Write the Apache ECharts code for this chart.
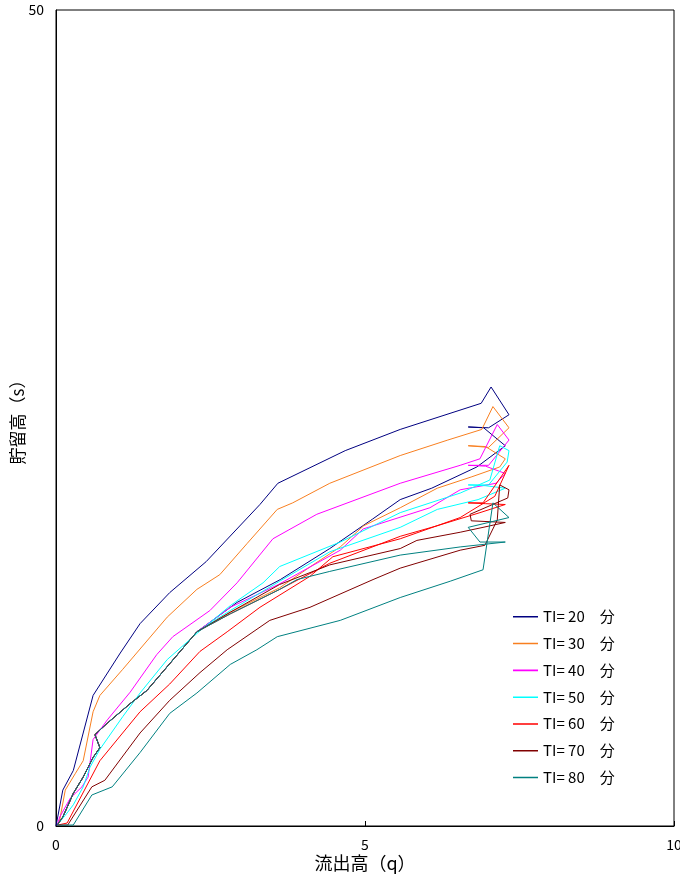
<!DOCTYPE html>
<html><head><meta charset="utf-8">
<script src="https://cdn.jsdelivr.net/npm/echarts@6/dist/echarts.min.js"></script>
<style>html,body{margin:0;padding:0;background:#fff;}#c{width:680px;height:881px;}</style>
</head><body><div id="c"></div>
<script>
// Series names (legend labels)
const seriesNames = ['TI= 20\u3000分','TI= 30\u3000分','TI= 40\u3000分','TI= 50\u3000分','TI= 60\u3000分','TI= 70\u3000分','TI= 80\u3000分'];
const seriesColors = ['#000080','#F87F20','#FF00FF','#00FFFF','#FF0000','#800000','#008080'];

// Common recession tail (falling limbs converge) [q, s]
const recessionTail = [[2.28,11.9],[1.47,8.3],[1.20,7.5],[0.83,6.3],[0.63,5.6],[0.71,4.8],[0.60,4.2],[0.44,3.0],[0.28,2.0],[0.11,0.55],[0.02,0.06]];

const ti20 = [[0,0],[0.11,2.2],[0.28,3.4],[0.60,8.0],[1.04,10.6],[1.36,12.4],[1.84,14.3],[2.43,16.2],[3.30,19.7],[3.59,21.0],[4.68,23.0],[5.57,24.3],[6.88,25.9],[7.04,26.9],[7.33,25.2],[7.0,24.4],[6.67,24.45],[6.92,24.4],[7.27,23.3],[6.81,22.0],[6.08,20.7],[5.57,20.0],[5.12,18.8],[4.43,17.0],[3.63,15.1],[2.93,13.7]];
const ti30 = [[0.02,0.05],[0.06,0.37],[0.15,2.2],[0.31,3.2],[0.44,4.0],[0.60,7.0],[0.71,8.0],[1.08,9.6],[1.80,12.8],[2.28,14.5],[2.65,15.4],[3.09,17.3],[3.58,19.4],[3.83,19.8],[4.43,21.0],[5.57,22.7],[6.34,23.65],[6.89,24.3],[7.07,25.7],[7.33,24.4],[7.0,23.2],[6.67,23.3],[6.95,23.25],[7.27,22.5],[7.18,22.0],[6.73,21.4],[6.17,20.7],[5.57,19.5],[4.98,18.4],[4.60,17.1],[4.16,16.0],[3.62,14.6],[2.82,13.1]];
const ti40 = [[0.02,0.05],[0.06,0.55],[0.23,1.7],[0.42,2.4],[0.52,3.0],[0.60,5.3],[0.83,6.5],[1.20,8.2],[1.63,10.5],[1.89,11.6],[2.49,13.2],[2.93,14.9],[3.51,17.6],[4.22,19.1],[5.57,21.0],[6.54,22.1],[6.86,22.5],[7.14,24.6],[7.33,23.65],[7.0,22.1],[6.67,22.1],[6.95,22.05],[7.27,21.6],[7.12,21.0],[6.54,20.6],[6.05,19.5],[4.97,18.2],[4.60,16.9],[3.60,14.8],[2.82,13.4]];
const ti50 = [[0.02,0.06],[0.18,0.8],[0.28,1.3],[0.44,2.4],[0.55,3.6],[0.71,4.7],[1.08,6.7],[1.36,8.15],[1.80,10.2],[2.28,11.8],[2.82,13.5],[3.35,14.9],[3.62,15.9],[4.60,17.4],[5.57,19.2],[6.54,20.4],[7.02,21.2],[7.18,23.3],[7.33,23.0],[7.30,22.3],[7.0,20.9],[6.67,20.9],[6.95,20.85],[7.27,20.7],[6.83,20.0],[6.17,19.4],[5.57,18.3],[4.43,16.8],[3.62,15.0],[2.82,13.2]];
const ti60 = [[0.02,0.05],[0.18,0.18],[0.71,4.0],[1.36,7.0],[1.84,8.7],[2.33,10.7],[2.77,11.9],[3.30,13.4],[4.11,15.3],[4.48,16.5],[5.57,17.6],[6.54,18.9],[7.10,20.2],[7.33,22.1],[6.91,19.8],[6.67,19.8],[6.95,19.75],[7.27,19.7],[6.86,19.2],[6.17,18.4],[5.57,17.75],[4.43,16.1],[3.62,14.5],[2.82,13.0]];
const ti70 = [[0.02,0.05],[0.19,0.06],[0.58,2.4],[0.79,2.8],[1.36,5.7],[1.84,7.7],[2.33,9.4],[2.77,10.8],[3.46,12.6],[4.11,13.4],[5.13,15.1],[5.57,15.8],[6.54,16.9],[6.94,17.2],[7.14,18.75],[7.18,20.9],[7.33,20.6],[7.31,20.1],[6.70,19.1],[6.72,18.7],[7.27,18.6],[6.91,18.3],[6.54,18.0],[5.84,17.5],[5.57,17.0],[4.43,16.0],[3.62,14.8],[2.82,13.1]];
const ti80 = [[0.02,0.05],[0.28,0.06],[0.58,1.9],[0.91,2.4],[1.36,4.5],[1.84,6.9],[2.28,8.15],[2.82,9.9],[3.25,10.8],[3.58,11.6],[4.60,12.6],[5.57,14.0],[6.38,15.0],[6.91,15.7],[7.07,19.8],[7.33,18.9],[6.67,18.3],[6.86,17.4],[7.27,17.4],[6.54,17.1],[5.57,16.6],[4.43,15.6],[3.90,15.1],[3.62,14.5],[2.82,13.0]];

const seriesData = [ti20, ti30, ti40, ti50, ti60, ti70, ti80];

const xTicks = {min:0, max:10, interval:5};
const yTicks = {min:0, max:50, interval:50};

// legend line icon: thin bar with invisible corner points to keep the box
const lineIcon = 'path://M0,0h0.01v0.01h-0.01z M0,6.5h26v1.6h-26z M25.99,13.99h0.01v0.01h-0.01z';

const FONT = '"Noto Sans CJK JP", "Noto Sans", sans-serif';
const chart = echarts.init(document.getElementById('c'), null, {renderer:'canvas'});
chart.setOption({
  backgroundColor:'#fff',
  animation:false,
  textStyle:{fontFamily:FONT},
  grid:{left:56, right:6, top:10, bottom:55, show:true, borderColor:'#000', borderWidth:1,
        backgroundColor:'transparent', containLabel:false, outerBoundsMode:'none'},
  legend:{
    orient:'vertical', left:508, top:604,
    itemWidth:25, itemHeight:14, itemGap:11.8,
    data: seriesNames.map(n => ({name:n, icon:lineIcon})),
    textStyle:{fontSize:15, color:'#000', fontFamily:FONT}
  },
  xAxis:{
    type:'value', min:xTicks.min, max:xTicks.max, interval:xTicks.interval,
    axisLine:{show:true, onZero:false, lineStyle:{color:'#000', width:1}},
    axisTick:{show:true, inside:true, length:5, lineStyle:{color:'#000'}},
    splitLine:{show:false},
    axisLabel:{fontSize:14, color:'#000', margin:12, fontFamily:FONT},
    name:'流出高（q）', nameLocation:'middle', nameGap:28, nameMoveOverlap:false,
    nameTextStyle:{fontSize:18, color:'#000', fontFamily:FONT, verticalAlign:'top'}
  },
  yAxis:{
    type:'value', min:yTicks.min, max:yTicks.max, interval:yTicks.interval,
    axisLine:{show:true, onZero:false, lineStyle:{color:'#000', width:1}},
    axisTick:{show:false},
    splitLine:{show:false},
    axisLabel:{fontSize:14, color:'#000', margin:12, fontFamily:FONT},
    name:'貯留高（s）', nameLocation:'middle', nameGap:30, nameRotate:90, nameMoveOverlap:false,
    nameTextStyle:{fontSize:17, color:'#000', fontFamily:FONT, verticalAlign:'bottom'}
  },
  series: seriesData.map((d, i) => ({
    name: seriesNames[i], type:'line',
    data: d.concat(recessionTail),
    showSymbol:false, symbol:'none', smooth:false,
    lineStyle:{width:1, color:seriesColors[i]},
    itemStyle:{color:seriesColors[i]},
    z: 2 + i
  }))
});
</script></body></html>
